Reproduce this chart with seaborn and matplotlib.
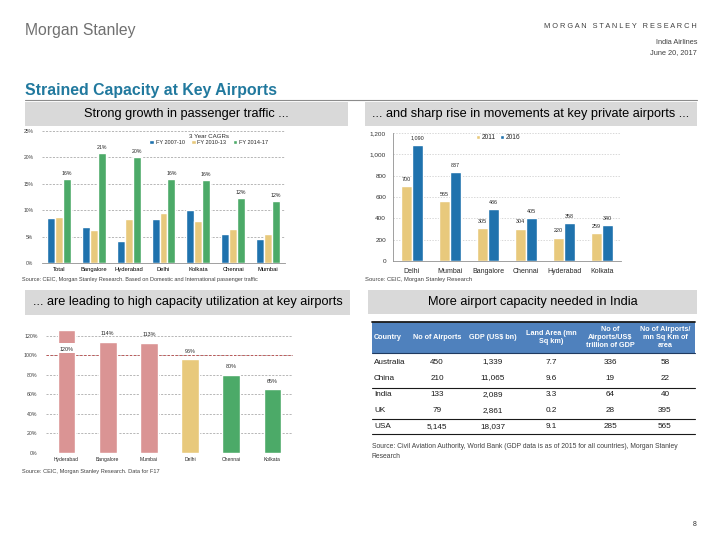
import numpy as np
import pandas as pd
import matplotlib
matplotlib.use("Agg")
import matplotlib.pyplot as plt
import seaborn as sns
from matplotlib.patches import Rectangle
from matplotlib.lines import Line2D

# ---------------- data ----------------
cagr_cities = ["Total", "Bangalore", "Hyderabad", "Delhi", "Kolkata", "Chennai", "Mumbai"]
cagr_periods = ["FY 2007-10", "FY 2010-13", "FY 2014-17"]
cagr_0710 = [8.5, 6.8, 4.1, 8.3, 10.1, 5.4, 4.6]
cagr_1013 = [8.7, 6.2, 8.3, 9.4, 7.9, 6.4, 5.5]
cagr_1417 = [16.0, 20.8, 20.1, 16.0, 15.7, 12.3, 11.7]
cagr_1417_labels = ["16%", "21%", "20%", "16%", "16%", "12%", "12%"]

mov_cities = ["Delhi", "Mumbai", "Bangalore", "Chennai", "Hyderabad", "Kolkata"]
mov_years = ["2011", "2016"]
mov_2011 = [700, 565, 305, 304, 220, 259]
mov_2016 = [1090, 837, 486, 405, 358, 340]

util_cities = ["Hyderabad", "Bangalore", "Mumbai", "Delhi", "Chennai", "Kolkata"]
util_values = [126, 114, 113, 96, 80, 65]
util_labels = ["120%", "114%", "113%", "96%", "80%", "65%"]

tbl_header = ["Country", "No of Airports", "GDP (US$ bn)", "Land Area (mn\nSq km)",
              "No of\nAirports/US$\ntrillion of GDP", "No of Airports/\nmn Sq Km of\narea"]
tbl_country = ["Australia", "China", "India", "UK", "USA"]
tbl_airports = ["450", "210", "133", "79", "5,145"]
tbl_gdp = ["1,339", "11,065", "2,089", "2,861", "18,037"]
tbl_land = ["7.7", "9.6", "3.3", "0.2", "9.1"]
tbl_per_gdp = ["336", "19", "64", "28", "285"]
tbl_per_area = ["58", "22", "40", "395", "565"]

# ---------------- style ----------------
sns.set_theme(style="white")
plt.rcParams["font.family"] = ["Liberation Sans", "DejaVu Sans"]

W, H = 720, 540
BLUE = "#1f72ad"
TAN = "#e8c97c"
GREEN = "#4caa68"
PINK = "#da9494"
GRID = "#9a9a9a"

fig = plt.figure(figsize=(7.2, 5.4), dpi=100)
bg = fig.add_axes([0, 0, 1, 1], zorder=0)
bg.set_xlim(0, W)
bg.set_ylim(H, 0)
bg.axis("off")


def rect(x0, y0, x1, y1):
    return [x0 / W, 1 - y1 / H, (x1 - x0) / W, (y1 - y0) / H]


# ---------------- page decorations ----------------
bg.text(25, 30, "Morgan Stanley", fontsize=11.3, color="#707070", va="center", ha="left")
bg.text(697, 27, "M O R G A N   S T A N L E Y   R E S E A R C H", fontsize=5.3,
        color="#404040", ha="right", va="center")
bg.text(697, 42, "India Airlines", fontsize=5.3, color="#404040", ha="right", va="center")
bg.text(697, 53, "June 20, 2017", fontsize=5.3, color="#404040", ha="right", va="center")
bg.text(25, 90, "Strained Capacity at Key Airports", fontsize=11.4, fontweight="bold",
        color="#21799e", ha="left", va="center")
bg.add_line(Line2D([25, 697], [100, 100], color="#8c8c8c", lw=0.8))

boxes = [
    (25, 102, 348, 126, "Strong growth in passenger traffic ..."),
    (365, 102, 697, 126, "... and sharp rise in movements at key private airports ..."),
    (25, 290, 350, 315, "... are leading to high capacity utilization at key airports"),
    (368, 290, 697, 314, "More airport capacity needed in India"),
]
for x0, y0, x1, y1, t in boxes:
    bg.add_patch(Rectangle((x0, y0), x1 - x0, y1 - y0, color="#d9d9d9", lw=0))
    bg.text((x0 + x1) / 2, (y0 + y1) / 2, t, fontsize=9.2, color="black",
            ha="center", va="center")

bg.text(22, 280, "Source: CEIC, Morgan Stanley Research. Based on Domestic and International passenger traffic",
        fontsize=3.95, color="#404040", ha="left", va="center")
bg.text(365, 280, "Source: CEIC, Morgan Stanley Research", fontsize=4.2, color="#404040",
        ha="left", va="center")
bg.text(22, 471, "Source: CEIC, Morgan Stanley Research. Data for F17", fontsize=4.1,
        color="#404040", ha="left", va="center")
bg.text(697, 525, "8", fontsize=5, color="#303030", ha="right", va="center")


def grid_style(ax, ticks):
    for t in ticks:
        ax.axhline(t, color=GRID, lw=0.5, ls=(0, (3, 2)), zorder=0)
    for s in ["top", "right", "left"]:
        ax.spines[s].set_visible(False)
    ax.set_xlabel("")
    ax.set_ylabel("")


# ---------------- chart 1 ----------------
df1 = pd.DataFrame({
    "city": cagr_cities * 3,
    "period": np.repeat(cagr_periods, len(cagr_cities)),
    "value": cagr_0710 + cagr_1013 + cagr_1417,
})
ax1 = fig.add_axes(rect(41.6, 131, 285.4, 263), zorder=2)
ax1.patch.set_alpha(0)
sns.barplot(data=df1, x="city", y="value", hue="period", palette=[BLUE, TAN, GREEN],
            width=0.68, saturation=1, ax=ax1, zorder=2)
ax1.set_ylim(0, 25)
ax1.set_xlim(-0.5, len(cagr_cities) - 0.5)
yt1 = [0, 5, 10, 15, 20, 25]
ax1.set_yticks(yt1)
ax1.set_yticklabels([f"{v}%" for v in yt1], fontsize=3.6, color="#404040")
ax1.tick_params(axis="x", labelsize=4.2, length=0, pad=3, colors="black")
ax1.tick_params(axis="y", length=0, pad=6)
grid_style(ax1, yt1[1:])
ax1.spines["bottom"].set_color("#909090")
ax1.spines["bottom"].set_linewidth(0.6)
ax1.bar_label(ax1.containers[2], labels=cagr_1417_labels, fontsize=3.8, padding=2)
ax1.legend(title="3 Year CAGRs", ncol=3, loc="upper center", bbox_to_anchor=(0.686, 0.98),
           frameon=False, fontsize=4.0, title_fontsize=4.4, handlelength=0.8,
           handleheight=0.8, handletextpad=0.3, columnspacing=1.2, borderaxespad=0,
           borderpad=0, labelspacing=0.2)

# ---------------- chart 2 ----------------
df2 = pd.DataFrame({
    "city": mov_cities * 2,
    "year": np.repeat(mov_years, len(mov_cities)),
    "value": mov_2011 + mov_2016,
})
ax2 = fig.add_axes(rect(393, 133, 621, 261), zorder=2)
ax2.patch.set_alpha(0)
sns.barplot(data=df2, x="city", y="value", hue="year", palette=[TAN, BLUE],
            width=0.6, saturation=1, ax=ax2, zorder=2)
ax2.set_ylim(0, 1200)
ax2.set_xlim(-0.5, len(mov_cities) - 0.5)
yt2 = list(range(0, 1201, 200))
ax2.set_yticks(yt2)
ax2.set_yticklabels([f"{v:,}" for v in yt2], fontsize=4.6, color="#303030")
for t in yt2[1:]:
    ax2.axhline(t, color="#c8c8c8", lw=0.5, ls=(0, (2, 2)), zorder=0)
ax2.spines["top"].set_visible(False)
ax2.spines["right"].set_visible(False)
for s in ["left", "bottom"]:
    ax2.spines[s].set_color("#909090")
    ax2.spines[s].set_linewidth(0.6)
ax2.tick_params(axis="x", labelsize=5, length=2, width=0.5, color="#909090", pad=3)
ax2.tick_params(axis="y", length=2, width=0.5, color="#909090", pad=3)
ax2.set_xlabel("")
ax2.set_ylabel("")
ax2.bar_label(ax2.containers[0], labels=[f"{v:,}" for v in mov_2011], fontsize=3.9, padding=3)
ax2.bar_label(ax2.containers[1], labels=[f"{v:,}" for v in mov_2016], fontsize=3.9, padding=3)
ax2.legend(ncol=2, loc="upper center", bbox_to_anchor=(0.46, 0.99), frameon=False,
           fontsize=4.8, handlelength=0.7, handleheight=0.7, handletextpad=0.2,
           columnspacing=0.6, borderaxespad=0, borderpad=0)

# ---------------- chart 3 ----------------
ax3 = fig.add_axes(rect(46, 327.9, 293, 452.7), zorder=2)
ax3.patch.set_alpha(0)
util_palette = [PINK, PINK, PINK, TAN, GREEN, GREEN]
sns.barplot(x=util_cities, y=util_values, hue=util_cities, palette=util_palette,
            width=0.43, saturation=1, legend=False, ax=ax3, zorder=2)
ax3.set_ylim(0, 128)
ax3.set_xlim(-0.5, len(util_cities) - 0.5)
yt3 = list(range(0, 121, 20))
ax3.set_yticks(yt3)
ax3.set_yticklabels([f"{v}%" for v in yt3], fontsize=3.8, color="#404040")
grid_style(ax3, yt3)
ax3.spines["bottom"].set_visible(False)
ax3.axhline(100, color="#b84848", lw=0.6, ls=(0, (3, 2)), zorder=1)
ax3.tick_params(axis="x", labelsize=3.6, length=0, pad=3)
ax3.tick_params(axis="y", length=0, pad=6)
# axis-break band on the first (off-scale) bar
ax3.add_patch(Rectangle((-0.3, 102), 0.6, 10, facecolor="white", edgecolor="none", zorder=3))
ax3.text(0, 103, util_labels[0], fontsize=3.9, ha="center", va="bottom", zorder=4)
for i, c in enumerate(ax3.containers[1:], start=1):
    ax3.bar_label(c, labels=[util_labels[i]], fontsize=3.9, padding=4)

# ---------------- table ----------------
tx0, tx1 = 372, 695
bg.add_patch(Rectangle((tx0, 322), tx1 - tx0, 31, color="#4f81bd", lw=0))
bg.add_line(Line2D([tx0, tx1], [322, 322], color="#1a1a1a", lw=1.3))
bg.add_line(Line2D([tx0, tx1], [353, 353], color="#1f3a60", lw=0.8))
col_x = [374, 437, 493, 551, 610, 665]
for j, h in enumerate(tbl_header):
    bg.text(col_x[j], 337.5, h, fontsize=5.2, color="white", fontweight="bold",
            ha="left" if j == 0 else "center", va="center", linespacing=1.2)
row_y = [362, 378, 395, 411, 427]
cols = [tbl_country, tbl_airports, tbl_gdp, tbl_land, tbl_per_gdp, tbl_per_area]
for i in range(len(tbl_country)):
    for j, col in enumerate(cols):
        bg.text(col_x[j], row_y[i], col[i], fontsize=5.9, color="#1a1a1a",
                ha="left" if j == 0 else "center", va="center")
for yl in [387.5, 419, 434]:
    bg.add_line(Line2D([tx0, tx1], [yl, yl], color="#1a1a1a", lw=0.8))
bg.text(372, 447, "Source: Civil Aviation Authority, World Bank (GDP data is as of 2015 for all countries), Morgan Stanley",
        fontsize=4.9, color="#404040", ha="left", va="center")
bg.text(372, 457, "Research", fontsize=4.9, color="#404040", ha="left", va="center")

fig.savefig("out.png", dpi=100)
